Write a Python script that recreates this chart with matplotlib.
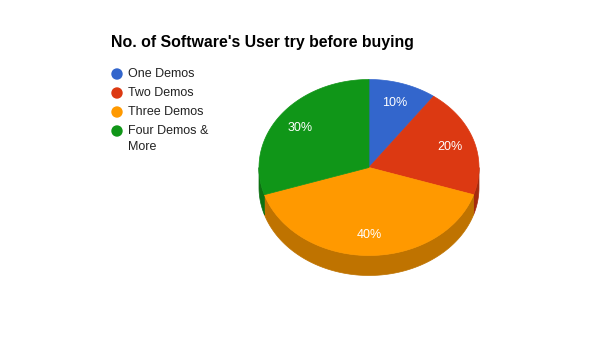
import numpy as np
import matplotlib
matplotlib.use("Agg")
import matplotlib.pyplot as plt
from matplotlib.patches import Polygon, Circle

title = "No. of Software's User try before buying"
categories = ["One Demos", "Two Demos", "Three Demos", "Four Demos &\nMore"]
values = [10, 20, 40, 30]
colors = ["#3366cc", "#dc3912", "#ff9900", "#109618"]
side_colors = ["#264d99", "#a52b0e", "#bf7300", "#0c7112"]

W, H = 595, 355
fig = plt.figure(figsize=(W / 100, H / 100), dpi=100)
ax = fig.add_axes([0, 0, 1, 1])
ax.set_xlim(0, W)
ax.set_ylim(H, 0)
ax.axis("off")
plt.rcParams["font.family"] = ["Liberation Sans", "DejaVu Sans"]

cx, cy, rx, ry, depth = 369, 167.5, 110, 88, 20
total = sum(values)
fracs = np.array(values) / total
bounds = np.concatenate([[0], np.cumsum(fracs)]) * 360


def pt(theta, dy=0.0):
    t = np.radians(theta)
    return cx + rx * np.sin(t), cy - ry * np.cos(t) + dy

# side walls (front half: angles 90..270)
for i in range(len(values)):
    a0, a1 = bounds[i], bounds[i + 1]
    s0, s1 = max(a0, 90), min(a1, 270)
    if s1 <= s0:
        continue
    th = np.linspace(s0, s1, 80)
    top = [pt(t) for t in th]
    bot = [pt(t, depth) for t in th[::-1]]
    ax.add_patch(Polygon(top + bot, closed=True, facecolor=side_colors[i],
                         edgecolor=side_colors[i], lw=0.5))

# top faces
for i in range(len(values)):
    a0, a1 = bounds[i], bounds[i + 1]
    th = np.linspace(a0, a1, 120)
    verts = [(cx, cy)] + [pt(t) for t in th]
    ax.add_patch(Polygon(verts, closed=True, facecolor=colors[i],
                         edgecolor=colors[i], lw=0.5))
    mid = (a0 + a1) / 2
    t = np.radians(mid)
    lx = cx + 0.77 * rx * np.sin(t)
    ly = cy - 0.77 * ry * np.cos(t)
    ax.text(lx, ly, f"{values[i] / total * 100:.0f}%", color="white",
            fontsize=9, ha="center", va="center")

# title
ax.text(111, 42, title, fontsize=11.4, fontweight="bold", color="#000000",
        ha="left", va="center")

# legend
ly0, dly = 74, 19
for i, lab in enumerate(categories):
    y = ly0 + i * dly
    ax.add_patch(Circle((117, y), 5.7, facecolor=colors[i], edgecolor="none"))
    for j, line in enumerate(lab.split("\n")):
        ax.text(128, y + j * 16, line, fontsize=9, color="#222222",
                ha="left", va="center")

fig.savefig("out.png", dpi=100)
